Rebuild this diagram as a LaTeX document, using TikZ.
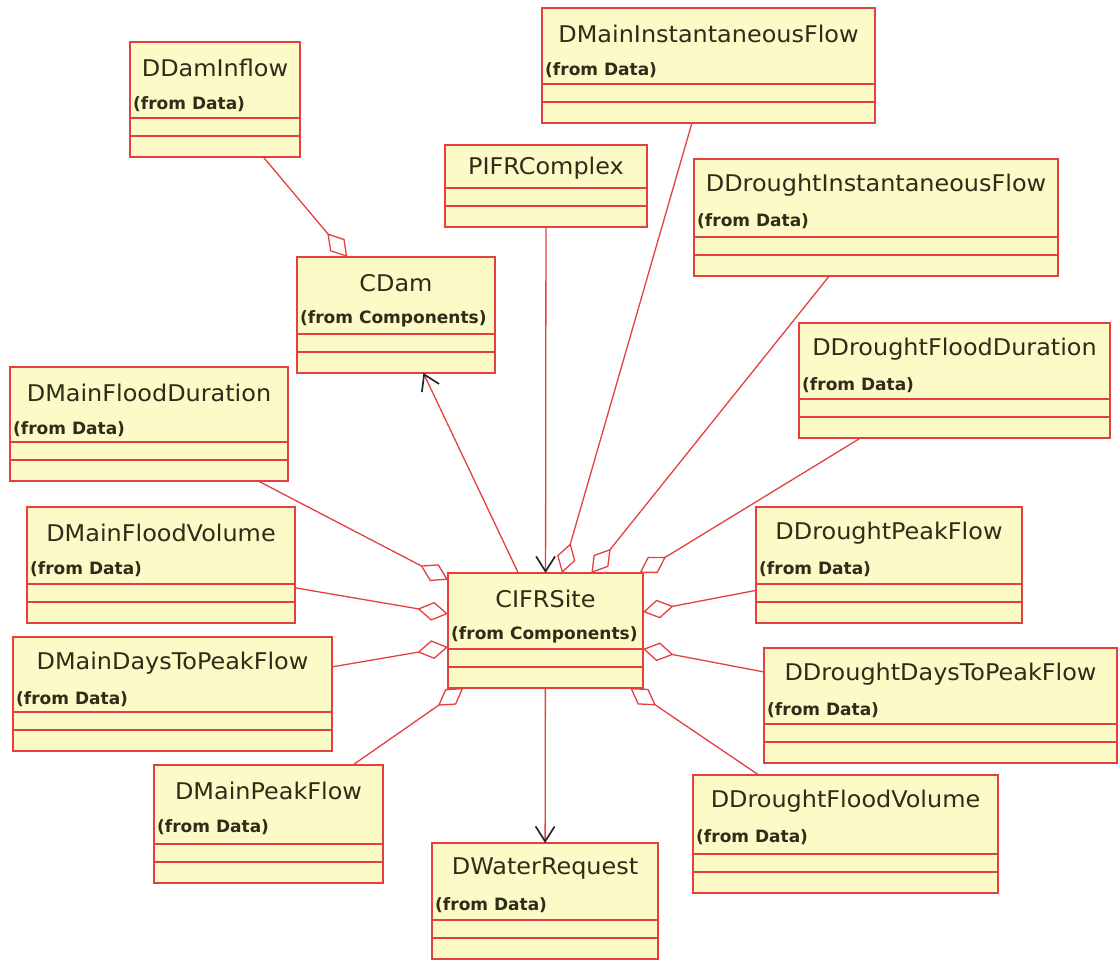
\documentclass[tikz,border=0pt]{standalone}
\usepackage{fontspec}
\setmainfont{DejaVu Sans}
\newfontfamily\ttlfont[FakeStretch=1.04]{DejaVu Sans}
\usetikzlibrary{arrows.meta}
\definecolor{boxfill}{RGB}{252,250,198}
\definecolor{boxline}{RGB}{228,64,64}
\definecolor{txt}{RGB}{45,45,25}
\definecolor{tipc}{RGB}{40,40,40}
\tikzset{
 classbox/.style={draw=boxline, fill=boxfill, line width=1.4pt, rectangle, inner sep=0pt, outer sep=0pt},
 compline/.style={draw=boxline, line width=1.4pt},
 titletext/.style={text=txt, font=\ttlfont\fontsize{23}{27}\selectfont, inner sep=0pt},
 fromtext/.style={text=txt, font=\bfseries\fontsize{17}{20}\selectfont, inner sep=0pt, anchor=west},
 agg/.style={draw=boxline, line width=1.3pt, -{Diamond[open, length=31pt, width=19pt, line width=1.3pt]}},
 nav/.style={draw=boxline, line width=1.3pt, -{Straight Barb[length=15pt, width=19pt, line width=1.7pt, color=tipc]}},
}
\newcommand{\umlclass}[7]{%
 \node[classbox, anchor=north west, minimum width={#4pt-#2pt}, minimum height={#5pt-#3pt}] (#1) at (#2,#3) {};
 \draw[compline] ([yshift=39pt]#1.south west) -- ([yshift=39pt]#1.south east);
 \draw[compline] ([yshift=21pt]#1.south west) -- ([yshift=21pt]#1.south east);
 \node[titletext] (#1-t) at ([yshift=-26pt]#1.north) {#6};
 \node[fromtext] (#1-f) at ([xshift=3pt,yshift=-62pt]#1.north west) {#7};
}
\begin{document}
\begin{tikzpicture}[x=1pt,y=-1pt]
\useasboundingbox (0,0) rectangle (1119,960);
\umlclass{dinflow}{130}{42}{300}{157}{DDamInflow}{(from Data)}
\umlclass{dmaininst}{542}{8}{875}{123}{DMainInstantaneousFlow}{(from Data)}
\node[classbox, anchor=north west, minimum width=202pt, minimum height=82pt] (pifr) at (445,145) {};
\draw[compline] ([yshift=39pt]pifr.south west) -- ([yshift=39pt]pifr.south east);
\draw[compline] ([yshift=21pt]pifr.south west) -- ([yshift=21pt]pifr.south east);
\node[titletext] (pifr-t) at ([yshift=-23pt]pifr.north) {PIFRComplex};
\umlclass{ddrinst}{694}{159}{1058}{276}{DDroughtInstantaneousFlow}{(from Data)}
\umlclass{cdam}{297}{257}{495}{373}{CDam}{(from Components)}
\umlclass{ddrflooddur}{799}{323}{1110}{438}{DDroughtFloodDuration}{(from Data)}
\umlclass{dmainflooddur}{10}{367}{288}{481}{DMainFloodDuration}{(from Data)}
\umlclass{dmainfloodvol}{27}{507}{295}{623}{DMainFloodVolume}{(from Data)}
\umlclass{ddrpeak}{756}{507}{1022}{623}{DDroughtPeakFlow}{(from Data)}
\umlclass{cifr}{448}{573}{643}{688}{CIFRSite}{(from Components)}
\umlclass{dmaindays}{13}{637}{332}{751}{DMainDaysToPeakFlow}{(from Data)}
\umlclass{ddrdays}{764}{648}{1117}{763}{DDroughtDaysToPeakFlow}{(from Data)}
\umlclass{dmainpeak}{154}{765}{383}{883}{DMainPeakFlow}{(from Data)}
\umlclass{ddrfloodvol}{693}{775}{998}{893}{DDroughtFloodVolume}{(from Data)}
\umlclass{dwater}{432}{843}{658}{959}{DWaterRequest}{(from Data)}
% connectors
\draw[agg] (dinflow) -- (cdam);
\draw[nav] (cifr) -- (cdam);
\draw[nav] (pifr) -- (cifr);
\draw[nav] (cifr) -- (dwater);
\draw[agg] (dmaininst) -- (cifr);
\draw[agg] (ddrinst) -- (cifr);
\draw[agg] (ddrflooddur) -- (cifr);
\draw[agg] (dmainflooddur) -- (cifr);
\draw[agg] (dmainfloodvol) -- (cifr);
\draw[agg] (dmaindays) -- (cifr);
\draw[agg] (dmainpeak) -- (cifr);
\draw[agg] (ddrfloodvol) -- (cifr);
\draw[agg] (ddrdays) -- (cifr);
\draw[agg] (ddrpeak) -- (cifr);
\end{tikzpicture}
\end{document}
